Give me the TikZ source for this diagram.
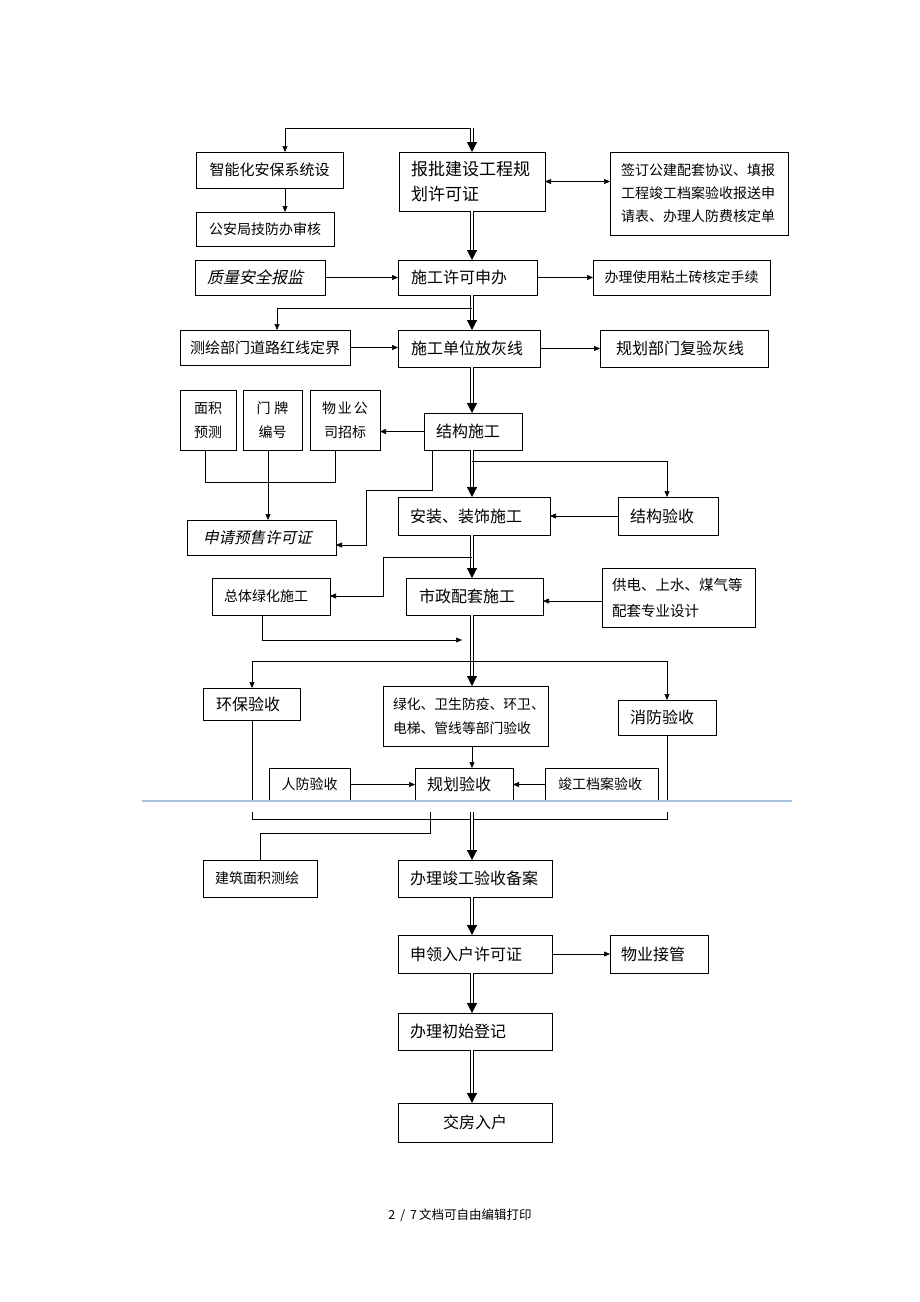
\documentclass[tikz,border=0pt]{standalone}
\usepackage{fontspec}
\setmainfont{Noto Sans CJK SC}
\newfontfamily\cjkit[FakeSlant=0.22]{Noto Sans CJK SC}
\usetikzlibrary{arrows.meta}
\newcommand\fz[2]{\fontsize{#1pt}{#2pt}\selectfont}
\definecolor{blueln}{RGB}{170,195,222}
\begin{document}
\begin{tikzpicture}[x=1pt,y=-1pt,
  bx/.style={draw, line width=0.8pt, anchor=north west, inner ysep=0pt, outer sep=0pt},
  ln/.style={line width=0.6pt},
  arr/.style={ln, -{Triangle[length=6pt,width=5pt]}},
  arrb/.style={ln, {Triangle[length=6pt,width=5pt]}-{Triangle[length=6pt,width=5pt]}},
  dbl/.style={double, double distance=2.2pt, line width=1.1pt, -{Triangle[length=10pt,width=10pt]}},
  dblp/.style={double, double distance=2.2pt, line width=1.1pt}]
\fill[white] (0,0) rectangle (920,1302);
\useasboundingbox (0,0) rectangle (920,1302);
\coordinate (S) at (472,0);
% ---- nodes
\node[bx, align=center, text width=135pt, inner xsep=6pt, minimum height=36pt, font=\fz{15}{18}] (zn) at (196,152) {智能化安保系统设};
\node[bx, align=center, text width=126pt, inner xsep=6pt, minimum height=34pt, font=\fz{14}{17}] (ga) at (196,212) {公安局技防办审核};
\node[bx, align=left, text width=122pt, inner xsep=12pt, minimum height=59pt, font=\fz{17}{25}] (bp) at (399,152) {报批建设工程规\\划许可证};
\node[bx, align=left, text width=156pt, inner xsep=11pt, minimum height=83pt, font=\fz{14}{23}] (qd) at (610,152) {签订公建配套协议、填报\\工程竣工档案验收报送申\\请表、办理人防费核定单};
\node[bx, align=left, text width=106pt, inner xsep=12pt, minimum height=35pt, font=\cjkit\fz{16}{19}] (zl) at (195,260) {质量安全报监};
\node[bx, align=left, text width=113pt, inner xsep=13pt, minimum height=35pt, font=\fz{16}{19}] (sg) at (398,260) {施工许可申办};
\node[bx, align=center, text width=165pt, inner xsep=6pt, minimum height=35pt, font=\fz{14}{17}] (bl) at (593,260) {办理使用粘土砖核定手续};
\node[bx, align=center, text width=158pt, inner xsep=6pt, minimum height=35pt, font=\fz{15}{18}] (ch) at (180,330) {测绘部门道路红线定界};
\node[bx, align=left, text width=116pt, inner xsep=13pt, minimum height=37pt, font=\fz{16}{19}] (fx) at (398,330) {施工单位放灰线};
\node[bx, align=left, text width=136pt, inner xsep=16pt, minimum height=37pt, font=\fz{16}{19}] (gf) at (600,330) {规划部门复验灰线};
\node[bx, align=center, text width=48pt, inner xsep=4pt, minimum height=60pt, font=\fz{14}{24}] (mj) at (180,390) {面积\\预测};
\node[bx, align=center, text width=51pt, inner xsep=4pt, minimum height=60pt, font=\fz{14}{24}] (mp) at (243,390) {门\hspace{4pt}牌\\编号};
\node[bx, align=center, text width=62pt, inner xsep=4pt, minimum height=60pt, font=\fz{14}{24}] (wy) at (310,390) {物\hspace{2pt}业\hspace{2pt}公\\司招标};
\node[bx, align=left, text width=74pt, inner xsep=12pt, minimum height=37pt, font=\fz{16}{19}] (jg) at (424,413) {结构施工};
\node[bx, align=left, text width=117pt, inner xsep=16pt, minimum height=35pt, font=\cjkit\fz{15.5}{19}] (sq) at (187,520) {申请预售许可证};
\node[bx, align=left, text width=128pt, inner xsep=12pt, minimum height=38pt, font=\fz{16}{19}] (az) at (398,497) {安装、装饰施工};
\node[bx, align=left, text width=76pt, inner xsep=12pt, minimum height=38pt, font=\fz{16}{19}] (jy) at (618,497) {结构验收};
\node[bx, align=left, text width=94pt, inner xsep=12pt, minimum height=37pt, font=\fz{14}{17}] (zt) at (212,578) {总体绿化施工};
\node[bx, align=left, text width=111pt, inner xsep=13pt, minimum height=37pt, font=\fz{16}{19}] (sz) at (406,578) {市政配套施工};
\node[bx, align=left, text width=133pt, inner xsep=10pt, minimum height=59pt, font=\fz{14.5}{26}] (gd) at (602,568) {供电、上水、煤气等\\配套专业设计};
\node[bx, align=left, text width=71pt, inner xsep=13pt, minimum height=32pt, font=\fz{16}{19}] (hb) at (203,688) {环保验收};
\node[bx, align=left, text width=145pt, inner xsep=10pt, minimum height=60pt, font=\fz{13.8}{24}] (lh) at (383,686) {绿化、卫生防疫、环卫、\\电梯、管线等部门验收};
\node[bx, align=left, text width=74pt, inner xsep=12pt, minimum height=35pt, font=\fz{16}{19}] (xf) at (618,700) {消防验收};
\node[bx, align=center, text width=73pt, inner xsep=4pt, minimum height=33pt, font=\fz{14}{17}] (rf) at (269,768) {人防验收};
\node[bx, align=left, text width=74pt, inner xsep=12pt, minimum height=33pt, font=\fz{16}{19}] (gh) at (415,768) {规划验收};
\node[bx, align=left, text width=87pt, inner xsep=13pt, minimum height=33pt, font=\fz{14}{17}] (jd) at (545,768) {竣工档案验收};
\node[bx, align=left, text width=90pt, inner xsep=12pt, minimum height=37pt, font=\fz{14}{17}] (jz) at (203,860) {建筑面积测绘};
\node[bx, align=left, text width=130pt, inner xsep=12pt, minimum height=37pt, font=\fz{16}{19}] (bb) at (398,860) {办理竣工验收备案};
\node[bx, align=left, text width=130pt, inner xsep=12pt, minimum height=38pt, font=\fz{16}{19}] (sl) at (398,935) {申领入户许可证};
\node[bx, align=left, text width=76pt, inner xsep=11pt, minimum height=38pt, font=\fz{16}{19}] (wj) at (610,935) {物业接管};
\node[bx, align=left, text width=130pt, inner xsep=12pt, minimum height=37pt, font=\fz{16}{19}] (bc) at (398,1013) {办理初始登记};
\node[bx, align=center, text width=142pt, inner xsep=6pt, minimum height=39pt, font=\fz{16}{19}] (jf) at (398,1103) {交房入户};
\node[font=\fz{12.5}{14}] (ft) at (460,1215) {2\hspace{5pt}/\hspace{5pt}7\hspace{2pt}文档可自由编辑打印};
% ---- coordinates
\coordinate (t0) at (472,128);
\coordinate (tl) at (285,128);
\coordinate (b1) at (472,308);
\coordinate (b1l) at (277,308);
\coordinate (mjb) at (205,482);
\coordinate (wyb) at (335,482);
\coordinate (j1) at (432,490);
\coordinate (j2) at (366,490);
\coordinate (j3) at (366,545);
\coordinate (b2) at (472,461);
\coordinate (b2r) at (667,461);
\coordinate (b3) at (472,557);
\coordinate (b3l) at (383,557);
\coordinate (b3d) at (383,596);
\coordinate (z1) at (262,640);
\coordinate (z2) at (462,640);
\coordinate (b4l) at (252,661);
\coordinate (b4r) at (667,661);
\coordinate (hbc) at (252,801);
\coordinate (xfc) at (667,801);
\coordinate (hbk) at (252,812);
\coordinate (xfk) at (667,812);
\coordinate (kl) at (252,819);
\coordinate (kr) at (667,819);
\coordinate (sp) at (472,812);
\coordinate (m1) at (430,812);
\coordinate (m2) at (430,833);
\coordinate (m3) at (260,833);
% ---- connectors
\draw[arr] (t0) -- (tl) -- (zn.north -| tl);
\draw[dbl] (t0) -- (bp.north -| S);
\draw[arr] (zn.south -| tl) -- (ga.north -| tl);
\draw[arrb] (bp.east) -- (qd.west |- bp.east);
\draw[dbl] (bp.south -| S) -- (sg.north -| S);
\draw[arr] (zl.east) -- (sg.west |- zl.east);
\draw[arr] (sg.east) -- (bl.west |- sg.east);
\draw[dbl] (sg.south -| S) -- (fx.north -| S);
\draw[arr] (b1) -- (b1l) -- (ch.north -| b1l);
\draw[arr] (ch.east) -- (fx.west |- ch.east);
\draw[arr] (fx.east) -- (gf.west |- fx.east);
\draw[dbl] (fx.south -| S) -- (jg.north -| S);
\draw[arr] (jg.west) -- (wy.east |- jg.west);
\draw[ln] (mj.south -| mjb) -- (mjb) -- (wyb) -- (wy.south -| wyb);
\draw[arr] (mp.south -| 268,0) -- (sq.north -| 268,0);
\draw[arr] (jg.south -| j1) -- (j1) -- (j2) -- (j3) -- (sq.east |- j3);
\draw[dbl] (jg.south -| S) -- (az.north -| S);
\draw[arr] (b2) -- (b2r) -- (jy.north -| b2r);
\draw[arr] (jy.west) -- (az.east |- jy.west);
\draw[dbl] (az.south -| S) -- (sz.north -| S);
\draw[arr] (b3) -- (b3l) -- (b3d) -- (zt.east |- b3d);
\draw[arr] (gd.west |- 0,601) -- (sz.east |- 0,601);
\draw[arr] (zt.south -| z1) -- (z1) -- (z2);
\draw[dbl] (sz.south -| S) -- (lh.north -| S);
\draw[ln] (b4l) -- (b4r);
\draw[arr] (b4l) -- (hb.north -| b4l);
\draw[arr] (b4r) -- (xf.north -| b4r);
\draw[arr] (lh.south -| S) -- (gh.north -| S);
\draw[arr] (rf.east) -- (gh.west |- rf.east);
\draw[arr] (jd.west) -- (gh.east |- jd.west);
\draw[ln] (hb.south -| hbc) -- (hbc);
\draw[ln] (xf.south -| xfc) -- (xfc);
\draw[ln] (hbk) -- (kl) -- (kr) -- (xfk);
\draw[ln] (m1) -- (m2) -- (m3) -- (jz.north -| m3);
\draw[dbl] (sp) -- (bb.north -| S);
\draw[dbl] (bb.south -| S) -- (sl.north -| S);
\draw[arr] (sl.east) -- (wj.west |- sl.east);
\draw[dbl] (sl.south -| S) -- (bc.north -| S);
\draw[dbl] (bc.south -| S) -- (jf.north -| S);
% page-break line
\draw[blueln, line width=1.3pt] (142,801) -- (792,801);
\end{tikzpicture}
\end{document}
